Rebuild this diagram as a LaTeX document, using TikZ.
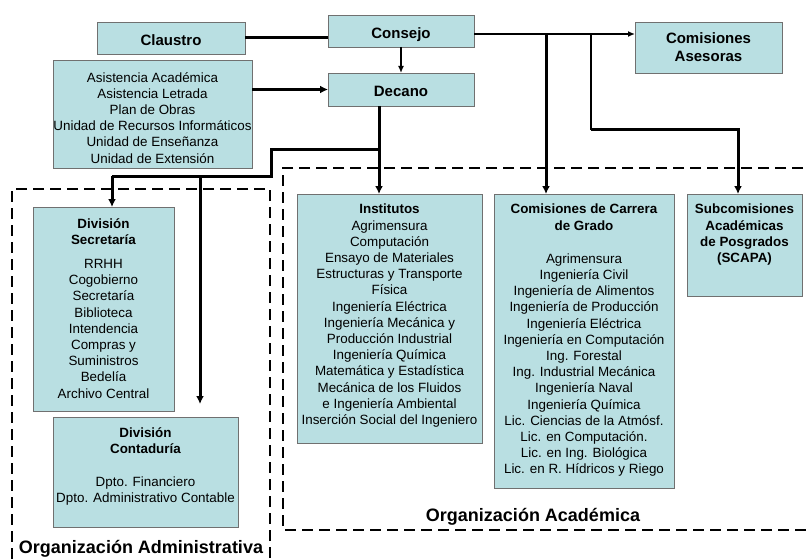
\documentclass[tikz,border=0pt]{standalone}
\usepackage{fontspec}
\setmainfont{Liberation Sans}
\usetikzlibrary{arrows.meta,calc}
\definecolor{boxfill}{HTML}{B9DFE2}
\definecolor{boxline}{HTML}{707070}
\begin{document}
\begin{tikzpicture}[x=1pt,y=-1pt,
  cbox/.style={draw=boxline, line width=0.8pt, fill=boxfill, inner sep=0pt, outer sep=0pt},
  bodytxt/.style={font=\fontsize{13.4}{16.2}\selectfont, align=center, inner sep=0pt, anchor=north},
  ttltxt/.style={font=\bfseries\fontsize{15}{18}\selectfont, align=center},
  onettl/.style={ttltxt, text height=15pt, text depth=0pt},
  conn/.style={line width=3pt},
  thinconn/.style={line width=2pt},
  bigarr/.style={-{Latex[length=8pt,width=8pt]}},
  smallarr/.style={-{Latex[length=7pt,width=6pt]}},
  orgframe/.style={line width=2.6pt, dash pattern=on 11pt off 6pt},
  bigtxt/.style={font=\bfseries\fontsize{18}{20}\selectfont, inner sep=0pt}
]
\useasboundingbox (0,0) rectangle (808,559);
\clip (0,0) rectangle (808,559);

% dashed frames
\draw[orgframe] (270,575) -- (270,189) -- (12,189) -- (12,575);
\draw[orgframe] (820,168) -- (283,168) -- (283,530) -- (820,530);

% top boxes
\node[cbox, onettl, minimum width=148pt, minimum height=32pt] (claustro) at (171,38) {Claustro};
\node[cbox, onettl, minimum width=146pt, minimum height=32pt] (consejo) at (401,31) {Consejo};
\node[cbox, onettl, minimum width=146pt, minimum height=33pt] (decano) at (401,89.5) {Decano};
\node[cbox, ttltxt, minimum width=147pt, minimum height=51pt] (asesoras) at (708.5,47.5) {Comisiones\\Asesoras};
\node[cbox, minimum width=199pt, minimum height=108pt] (asist) at (152.5,114) {};
\node[bodytxt] (asist-t) at (152.5,72)
  {Asistencia Académica\\Asistencia Letrada\\Plan de Obras\\Unidad de Recursos Informáticos\\Unidad de Enseñanza\\Unidad de Extensión};

% administrative boxes
\node[cbox, minimum width=141pt, minimum height=204pt] (secretaria) at (103.5,309) {};
\node[bodytxt] (secretaria-t) at (103.5,218)
  {\textbf{División}\\\textbf{Secretaría}\\[8pt]RRHH\\Cogobierno\\Secretaría\\Biblioteca\\Intendencia\\Compras y\\Suministros\\Bedelía\\Archivo Central};
\node[cbox, minimum width=185pt, minimum height=110pt] (contaduria) at (145.5,472) {};
\node[bodytxt] (contaduria-t) at (145.5,427)
  {\textbf{División}\\\textbf{Contaduría}\\[17pt]Dpto. Financiero\\Dpto. Administrativo Contable};

% academic boxes
\node[cbox, minimum width=185pt, minimum height=249pt] (institutos) at (389.5,318.5) {};
\node[bodytxt] (institutos-t) at (389.5,204)
  {\textbf{Institutos}\\Agrimensura\\Computación\\Ensayo de Materiales\\Estructuras y Transporte\\Física\\Ingeniería Eléctrica\\Ingeniería Mecánica y\\Producción Industrial\\Ingeniería Química\\Matemática y Estadística\\Mecánica de los Fluidos\\e Ingeniería Ambiental\\Inserción Social del Ingeniero};
\node[cbox, minimum width=180pt, minimum height=294pt] (carrera) at (584,341) {};
\node[bodytxt] (carrera-t) at (584,204)
  {\textbf{Comisiones de Carrera}\\\textbf{de Grado}\\[17pt]Agrimensura\\Ingeniería Civil\\Ingeniería de Alimentos\\Ingeniería de Producción\\Ingeniería Eléctrica\\Ingeniería en Computación\\Ing. Forestal\\Ing. Industrial Mecánica\\Ingeniería Naval\\Ingeniería Química\\Lic. Ciencias de la Atmósf.\\Lic. en Computación.\\Lic. en Ing. Biológica\\Lic. en R. Hídricos y Riego};
\node[cbox, minimum width=115pt, minimum height=102pt] (scapa) at (744.5,245) {};
\node[bodytxt, font=\bfseries\fontsize{13.4}{16.2}\selectfont] (scapa-t) at (744.5,204)
  {Subcomisiones\\Académicas\\de Posgrados\\(SCAPA)};

% frame labels
\node[bigtxt] (acad) at (533,517) {Organización Académica};
\node[bigtxt] (admin) at (141,549) {Organización Administrativa};

% helper coordinates
\coordinate (cj) at ($(consejo.east)+(0,3)$);
\coordinate (c546) at (546,34);
\coordinate (c591) at (591,34);
\coordinate (c738) at (738,130);
\coordinate (c379) at (379,149);
\coordinate (c271) at (271,176);
\coordinate (c112) at (112,176);
\coordinate (c200) at (200,176);
\coordinate (contend) at (200,404);

% connectors
\draw[conn] (claustro.east) -- (claustro.east -| consejo.west);
\draw[thinconn, smallarr] (consejo.south) -- (decano.north);
\draw[conn, bigarr] (decano.west -| asist.east) -- (decano.west);
\draw[thinconn, smallarr] (cj) -- (cj -| asesoras.west);
\draw[conn, bigarr] (c546 |- cj) -- (c546 |- carrera.north);
\draw[thinconn] (c591 |- cj) -- (c591 |- c738);
\draw[conn, bigarr] (c591 |- c738) -- (c738) -- (c738 |- scapa.north);
\draw[conn, bigarr] (c379 |- decano.south) -- (c379 |- institutos.north);
\draw[conn] (c379) -| (c271) -- (c112);
\draw[conn, bigarr] (c112) -- (c112 |- secretaria.north);
\draw[conn, bigarr] (c200) -- (contend);
\end{tikzpicture}
\end{document}
